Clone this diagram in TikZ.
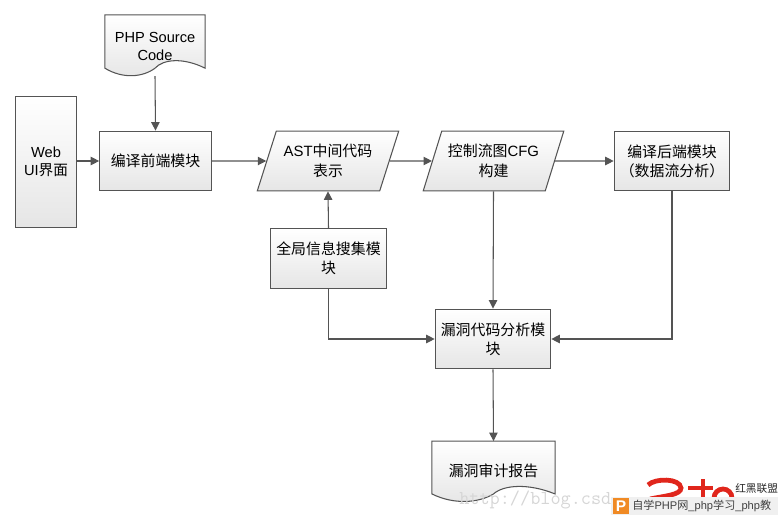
\documentclass[tikz,border=0pt]{standalone}
\usepackage{fontspec}
\setmainfont{Liberation Sans}
\newfontfamily\cjk{Noto Sans CJK SC}
\usetikzlibrary{arrows.meta,positioning,calc,shapes.geometric,backgrounds}
\definecolor{edge}{gray}{0.33}
\definecolor{shadelow}{gray}{0.90}
\definecolor{logored}{HTML}{E0261C}
\definecolor{badgeorange}{HTML}{F08A24}
\tikzset{
  boxfill/.style={top color=white,bottom color=shadelow,draw=edge,line width=0.75pt},
  flowbox/.style={boxfill,rectangle,align=center,font=\fontsize{10.6}{13.6}\selectfont,inner sep=0pt,minimum width=#1*0.7087pt,minimum height=60*0.7087pt},
  flowbox/.default=112,
  slantbox/.style={boxfill,trapezium,trapezium left angle=64,trapezium right angle=116,trapezium stretches=true,align=center,font=\fontsize{10.6}{14}\selectfont,inner sep=0pt,minimum width=142*0.7087pt,minimum height=60*0.7087pt},
  docbox/.style={align=center,font=\fontsize{10.4}{12.8}\selectfont,inner sep=0pt},
  flow/.style={draw=edge,line width=0.75pt,-{Triangle[length=6pt,width=6pt]}}
}
% outline of a document shape, behind its node
\newcommand{\docoutline}[1]{%
  \begin{scope}[on background layer]
  \draw[boxfill] (#1.north west)--(#1.north east)--(#1.south east)
    .. controls ($(#1.south east)!0.22!(#1.south west)+(0,-11)$) and ($(#1.south east)!0.42!(#1.south west)+(0,-9)$) .. (#1.south)
    .. controls ($(#1.south east)!0.62!(#1.south west)+(0,9)$) and ($(#1.south east)!0.82!(#1.south west)+(0,11)$) .. (#1.south west)--cycle;
  \end{scope}}

\begin{document}
\begin{tikzpicture}[x=0.025cm,y=-0.025cm]
\useasboundingbox (0,0) rectangle (782,520);
\node[flowbox=62,minimum height=132*0.7087pt,font=\fontsize{10.4}{12.6}\selectfont] (web) at (46,162) {Web\\UI{\cjk 界面}};
\node[flowbox] (front) at (155.5,161) {{\cjk 编译前端模块}};
\node[slantbox] (ast) at (328,161) {AST{\cjk 中间代码}\\{\cjk 表示}};
\node[slantbox] (cfg) at (493.5,161) {{\cjk 控制流图}CFG\\{\cjk 构建}};
\node[flowbox=116] (back) at (672,161) {{\cjk 编译后端模块}\\{\cjk （数据流分析）}};
\node[flowbox=117] (collect) at (328.5,258.5) {{\cjk 全局信息搜集模}\\{\cjk 块}};
\node[flowbox=116] (vuln) at (493,339) {{\cjk 漏洞代码分析模}\\{\cjk 块}};
\node[docbox,minimum width=100*0.7087pt,minimum height=53*0.7087pt] (src) at (155,41.5) {\rule{0pt}{14.5pt}PHP Source\\Code};
\node[docbox,minimum width=123*0.7087pt,minimum height=52.5*0.7087pt,font=\fontsize{10.6}{13}\selectfont] (report) at (493.5,467.5) {\raisebox{0pt}[13pt][0pt]{\cjk 漏洞审计报告}};
\docoutline{src}
\docoutline{report}
\draw[flow] (web.east|-front)--(front.west);
\draw[flow] (src.south)++(0,8)--(front.north);
\draw[flow] (front.east)--(ast.west);
\draw[flow] (ast.east)--(cfg.west);
\draw[flow] (cfg.east)--(back.west);
\draw[flow] (collect.north)--(ast.south);
\draw[flow] (collect.south)|-(vuln.west);
\draw[flow] (cfg.south)--(vuln.north);
\draw[flow] (back.south)|-(vuln.east);
\draw[flow] (vuln.south)--(report.north);
% watermark, logo and site badge
\node[font=\ttfamily\fontsize{14}{14}\selectfont,text=black!16,anchor=west,inner sep=0pt] (mark) at (459,500) {http://blog.csd};
\draw[logored,line width=3.4pt] (648,485) .. controls (655,478) and (680,478) .. (681,488) .. controls (681,495) and (664,496) .. (650,499);
\draw[logored,line width=3.4pt] (703,479)--(703,499) (688,488)--(713,488);
\draw[logored,line width=3.4pt] (723,498) circle (9);
\fill[black!6] (611,497) rectangle (778,515);
\fill[badgeorange] (613,498) rectangle (629,514);
\node[font=\fontsize{11}{11}\selectfont\bfseries,text=white,inner sep=0pt] (badgep) at (621,506) {P};
\node[font=\fontsize{7.9}{9}\selectfont,anchor=west,inner sep=0pt,text=black!75] (badge) at (632,506) {{\cjk 自学}PHP{\cjk 网}\_php{\cjk 学习}\_php{\cjk 教}};
\node[font=\fontsize{7.6}{8}\selectfont,anchor=west,inner sep=0pt,text=black!85] (league) at (735,488) {{\cjk 红黑联盟}};
\end{tikzpicture}
\end{document}
